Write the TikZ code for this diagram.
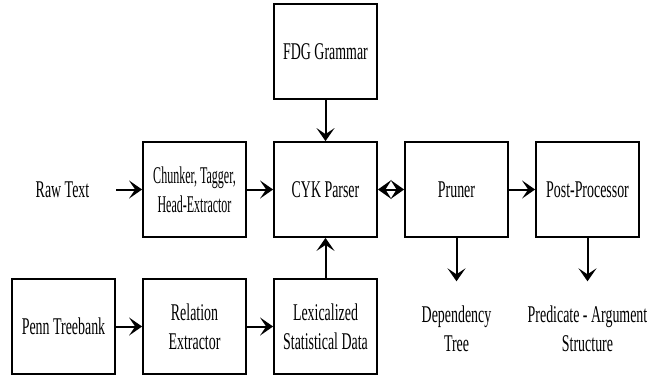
\documentclass[tikz,border=0pt]{standalone}
\usepackage{fontspec}
\setmainfont{Liberation Serif}[FakeStretch=0.58]
\newfontfamily\chunkfont{Liberation Serif}[FakeStretch=0.5]
\usetikzlibrary{arrows.meta}
\tikzset{
  txt/.style={font=\fontsize{24}{29}\selectfont},
  box/.style={draw, line width=1.8pt, minimum width=103pt, minimum height=95pt,
    inner sep=0pt, align=center, txt},
  plain/.style={inner sep=0pt, align=center, txt},
  arr/.style={line width=2pt, -{Stealth[length=13pt,width=18pt,inset=6pt]}},
  dblarr/.style={line width=2pt, {Stealth[length=13.5pt,width=19pt,inset=6pt]}-{Stealth[length=13.5pt,width=19pt,inset=6pt]}}
}
\begin{document}
\begin{tikzpicture}[x=1pt,y=-1pt]
\useasboundingbox (0,0) rectangle (666,376);
% top row
\node[box] (fdg) at (325.5,51.5) {FDG Grammar};
% middle row
\node[plain, minimum width=107pt] (raw) at (62.5,189.5) {Raw Text};
\node[box, font=\fontsize{24}{29}\chunkfont] (chunk) at (194.5,189.5) {Chunker, Tagger,\\Head-Extractor};
\node[box] (cyk) at (325.5,189.5) {CYK Parser};
\node[box] (pruner) at (456.5,189.5) {Pruner};
\node[box] (post) at (587.5,189.5) {Post-Processor};
% bottom row
\node[box] (penn) at (63.5,326.5) {Penn Treebank};
\node[box] (rel) at (194.5,326.5) {Relation\\Extractor};
\node[box] (lex) at (325.5,326.5) {Lexicalized\\Statistical Data};
\node[plain, minimum height=95pt] (dep) at (456.5,329) {Dependency\\Tree};
\node[plain, minimum height=95pt] (pred) at (587.5,329) {Predicate - Argument\\Structure};
% connectors
\draw[arr] (raw.east) -- (chunk.west);
\draw[arr] (chunk) -- (cyk);
\draw[arr] (fdg) -- (cyk);
\draw[arr] (lex) -- (cyk);
\draw[dblarr] (cyk) -- (pruner);
\draw[arr] (pruner) -- (post);
\draw[arr] (penn) -- (rel);
\draw[arr] (rel) -- (lex);
\draw[arr] (pruner.south) -- (dep.north);
\draw[arr] (post.south) -- (pred.north);
\end{tikzpicture}
\end{document}
